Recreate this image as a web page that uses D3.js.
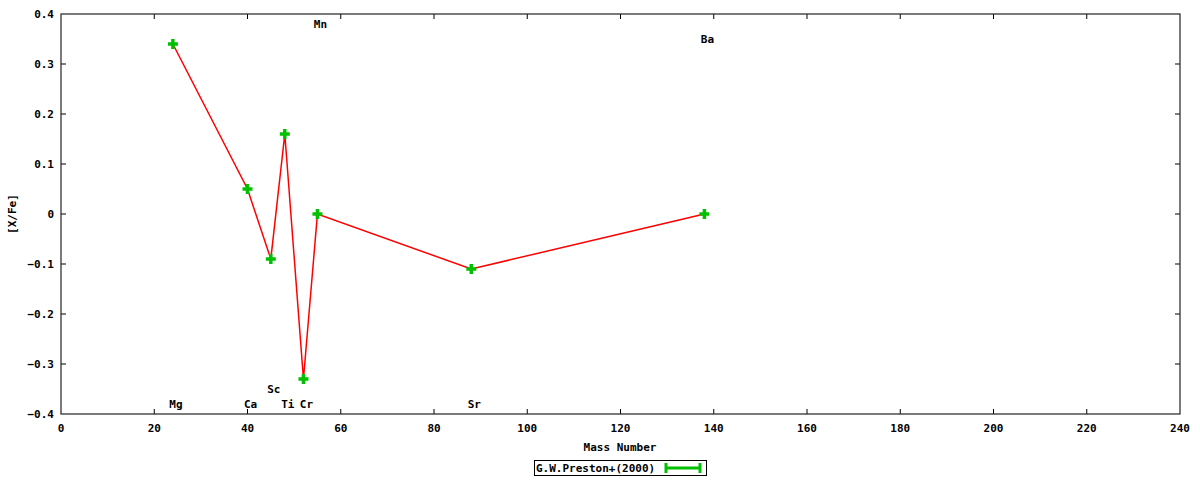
<!DOCTYPE html>
<html><head><meta charset="utf-8">
<script src="https://cdn.jsdelivr.net/npm/d3@7"></script>
<style>
body{margin:0;background:#fff;}
text{font-family:"DejaVu Sans Mono",monospace;font-weight:bold;font-size:11px;fill:#000;}
</style></head>
<body><svg id="c" width="1200" height="480"></svg>
<script>
const elements = ["Mg","Ca","Sc","Ti","Cr","Mn","Sr","Ba"];
const massNumbers = [24,40,45,48,52,55,88,138];
const xfeValues = [0.34,0.05,-0.09,0.16,-0.33,0.0,-0.11,0.0];
const labelY = [-0.38,-0.38,-0.35,-0.38,-0.38,0.38,-0.38,0.35];
const xTicks = [0,20,40,60,80,100,120,140,160,180,200,220,240];
const yTicks = [-0.4,-0.3,-0.2,-0.1,0,0.1,0.2,0.3,0.4];
const seriesName = "G.W.Preston+(2000)";

const svg = d3.select("#c");
const L=61, R=1180, T=14, B=414;
const x = d3.scaleLinear().domain([0,240]).range([L,R]);
const y = d3.scaleLinear().domain([-0.4,0.4]).range([B,T]);
const fmtY = d => d===0 ? "0" : d3.format(".1f")(d);
const tl = 5;

const g = svg.append("g");
// ticks (inward, mirrored)
xTicks.forEach(t=>{
  if(t===0||t===240) return;
  g.append("line").attr("x1",x(t)).attr("x2",x(t)).attr("y1",B).attr("y2",B-tl).attr("stroke","#000");
  g.append("line").attr("x1",x(t)).attr("x2",x(t)).attr("y1",T).attr("y2",T+tl).attr("stroke","#000");
});
yTicks.forEach(t=>{
  if(t===-0.4||t===0.4) return;
  g.append("line").attr("x1",L).attr("x2",L+tl).attr("y1",y(t)).attr("y2",y(t)).attr("stroke","#000");
  g.append("line").attr("x1",R).attr("x2",R-tl).attr("y1",y(t)).attr("y2",y(t)).attr("stroke","#000");
});
g.append("rect").attr("x",L).attr("y",T).attr("width",R-L).attr("height",B-T)
  .attr("fill","none").attr("stroke","#222").attr("stroke-width",1.2);

xTicks.forEach(t=>{
  g.append("text").attr("x",x(t)).attr("y",B+18).attr("text-anchor","middle").text(t);
});
yTicks.forEach(t=>{
  g.append("text").attr("x",L-7).attr("y",y(t)+4).attr("text-anchor","end").text(fmtY(t));
});
g.append("text").attr("x",620).attr("y",451).attr("text-anchor","middle").text("Mass Number");
g.append("text").attr("transform","translate(16,"+((T+B)/2)+") rotate(-90)").attr("text-anchor","middle").text("[X/Fe]");

// element labels
elements.forEach((e,i)=>{
  g.append("text").attr("x",x(massNumbers[i])+3).attr("y",y(labelY[i])+4)
   .attr("text-anchor","middle").text(e);
});

const pts = massNumbers.map((m,i)=>[m,xfeValues[i]]);
const line = d3.line().x(d=>x(d[0])).y(d=>y(d[1]));
g.append("path").attr("d",line(pts)).attr("fill","none").attr("stroke","#ff0000").attr("stroke-width",1.5);

const green="#00c000";
function plus(cx,cy,s){
  g.append("line").attr("x1",cx-s).attr("x2",cx+s).attr("y1",cy).attr("y2",cy).attr("stroke",green).attr("stroke-width",3.5);
  g.append("line").attr("x1",cx).attr("x2",cx).attr("y1",cy-s).attr("y2",cy+s).attr("stroke",green).attr("stroke-width",3.5);
}
pts.forEach(d=>plus(x(d[0]),y(d[1]),5));

// legend
const lg = svg.append("g");
lg.append("rect").attr("x",534.5).attr("y",460.5).attr("width",172).attr("height",15)
  .attr("fill","#fff").attr("stroke","#000").attr("stroke-width",1);
lg.append("text").attr("x",536).attr("y",472).text(seriesName);
lg.append("line").attr("x1",666).attr("x2",700).attr("y1",468).attr("y2",468).attr("stroke",green).attr("stroke-width",3);
[666,700].forEach(xx=>lg.append("line").attr("x1",xx).attr("x2",xx).attr("y1",463).attr("y2",473).attr("stroke",green).attr("stroke-width",3));
plus(683,468,5);
</script></body></html>
